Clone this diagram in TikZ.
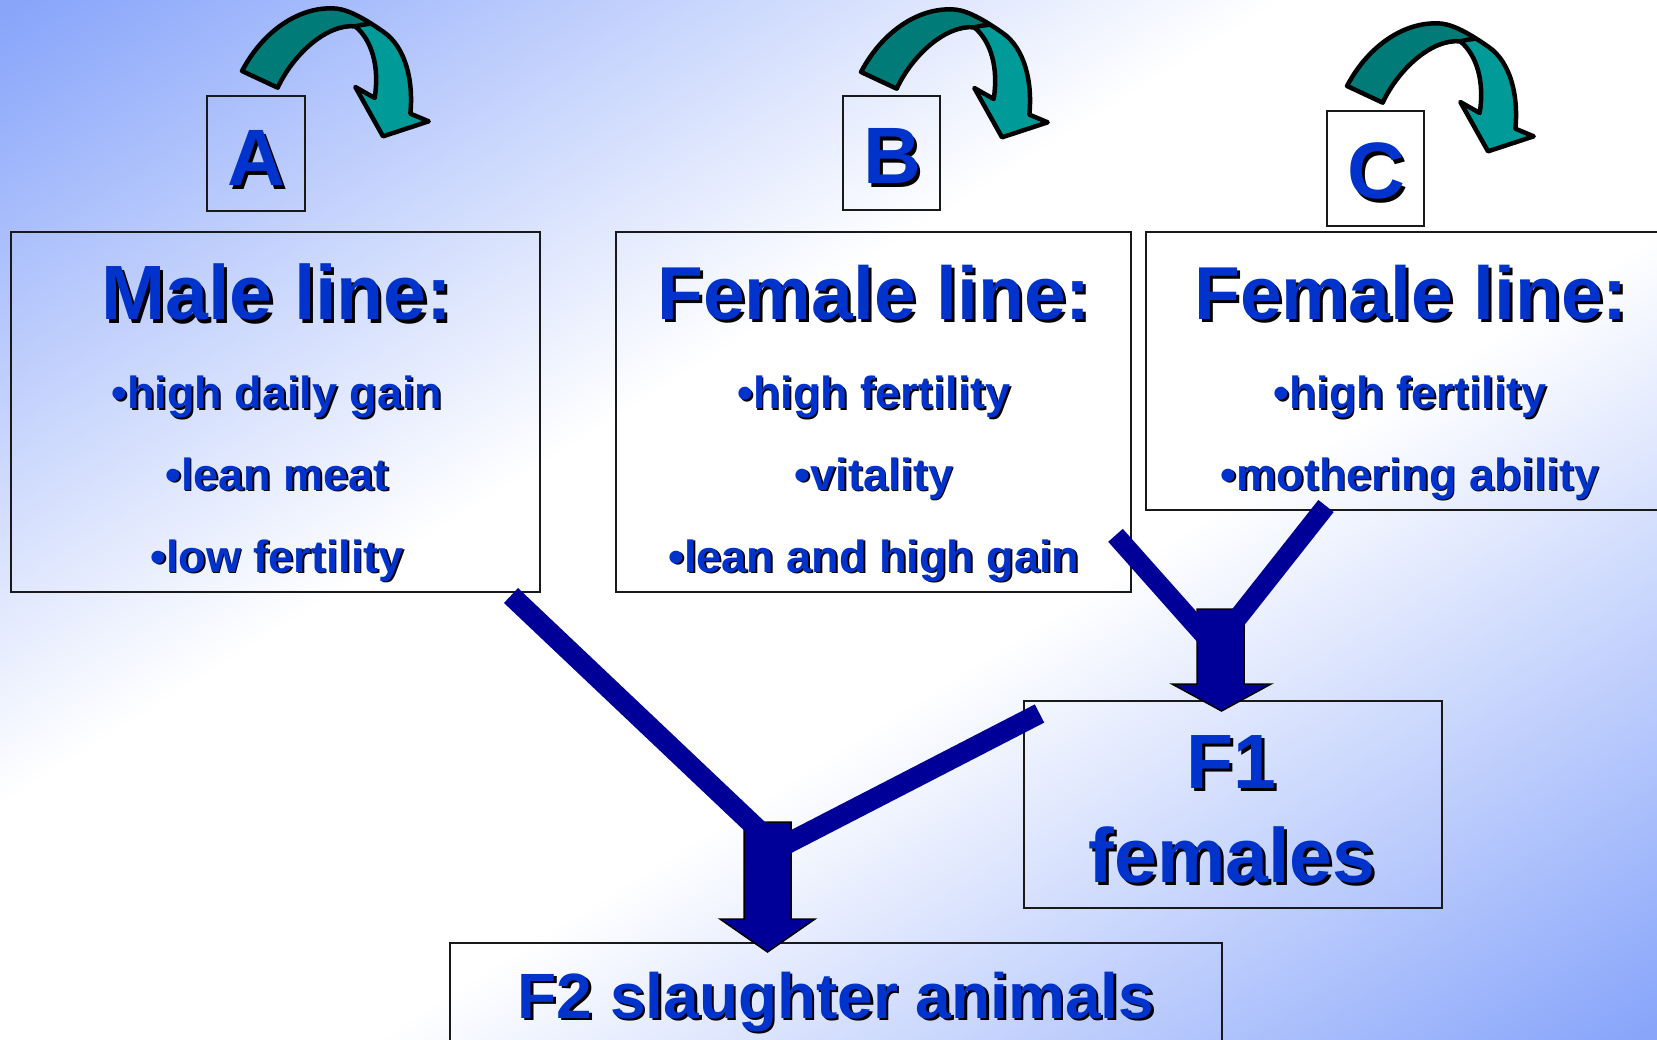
\documentclass[tikz,border=0pt]{standalone}
\usepackage{fontspec}
\setmainfont{Liberation Sans}
\definecolor{bgb}{RGB}{136,165,250}
\definecolor{tblue}{RGB}{0,51,204}
\definecolor{navy}{RGB}{0,0,153}
\definecolor{tealdark}{RGB}{0,123,120}
\definecolor{teallight}{RGB}{0,154,152}
\pgfdeclarehorizontalshading{bgsh}{100bp}{color(0bp)=(bgb); color(15bp)=(bgb); color(42bp)=(white); color(58bp)=(white); color(85bp)=(bgb); color(100bp)=(bgb)}
\newcommand\shd[1]{\makebox[0pt][l]{\hspace{0.04em}\raisebox{-0.04em}{\color{black}#1}}#1}
\tikzset{
  box/.style={draw=black!90, line width=2pt, inner sep=0pt, outer sep=0pt},
  lbl/.style={anchor=base, text=tblue, inner sep=0pt, font=\bfseries\fontsize{#1}{#1}\selectfont},
  bar/.style={draw=navy, line width=#1, line cap=butt, line join=miter},
  blockarr/.style={draw=black, fill=navy, line width=1.5pt, line join=miter},
  curl/.pic={
    \begin{scope}[scale=1/3, shift={(-155,-212)}]
      \fill[teallight] (155,212) .. controls (225,80) and (340,15) .. (440,25)
        .. controls (480,30) and (530,60) .. (580,95)
        .. controls (645,140) and (670,240) .. (660,340)
        -- (715,363) -- (578,408) -- (495,260) -- (553,293)
        .. controls (568,200) and (545,120) .. (495,78)
        .. controls (410,70) and (310,160) .. (262,262) -- cycle;
      \fill[tealdark] (155,212) .. controls (225,80) and (340,15) .. (440,25)
        .. controls (470,30) and (510,50) .. (540,70)
        .. controls (525,72) and (510,74) .. (495,78)
        .. controls (410,70) and (310,160) .. (262,262) -- cycle;
      \draw[line width=4.5pt, line join=round] (155,212) .. controls (225,80) and (340,15) .. (440,25)
        .. controls (480,30) and (530,60) .. (580,95)
        .. controls (645,140) and (670,240) .. (660,340)
        -- (715,363) -- (578,408) -- (495,260) -- (553,293)
        .. controls (568,200) and (545,120) .. (495,78)
        .. controls (410,70) and (310,160) .. (262,262) -- cycle;
      \draw[line width=4.5pt, line cap=round] (540,70) .. controls (525,72) and (510,74) .. (495,78);
    \end{scope}
  }
}
\begin{document}
\begin{tikzpicture}[x=1pt,y=-1pt]
\useasboundingbox (0,0) rectangle (1657,1040);
\fill[bgb] (0,0) rectangle (1657,1040);
\begin{scope}[transform canvas={shift={(828.5,520)}, xscale=1.657, yscale=1.04}]
  \shade[shading=bgsh, shading angle=-45] (-500,-500) rectangle (500,500);
\end{scope}

% small letter boxes
\node[box, minimum width=98pt, minimum height=115pt] (boxA) at (256,153.5) {};
\node[box, minimum width=97pt, minimum height=114pt] (boxB) at (891.5,153) {};
\node[box, minimum width=97pt, minimum height=115pt] (boxC) at (1375.5,168.5) {};
\node[lbl=80] (tA) at (256,186) {\shd{A}};
\node[lbl=80] (tB) at (892,184) {\shd{B}};
\node[lbl=80] (tC) at (1376,199) {\shd{C}};

% curl arrows
\pic (curlA) at (242,71) {curl};
\pic (curlB) at (861,72) {curl};
\pic (curlC) at (1347,86) {curl};

% main boxes
\node[box, minimum width=529pt, minimum height=360pt] (male) at (275.5,412) {};
\node[box, minimum width=515pt, minimum height=360pt] (femB) at (873.5,412) {};
\node[box, minimum width=519pt, minimum height=278pt] (femC) at (1405.5,371) {};
\node[box, minimum width=418pt, minimum height=207pt] (fone) at (1233,804.5) {};
\node[box, minimum width=772pt, minimum height=107pt] (ftwo) at (836,996.5) {};

% texts
\node[lbl=77] (mt) at (277,320) {\shd{Male line:}};
\node[lbl=45] (m1) at (277,409) {\shd{•high daily gain}};
\node[lbl=45] (m2) at (277,490) {\shd{•lean meat}};
\node[lbl=45] (m3) at (277,572) {\shd{•low fertility}};

\node[lbl=75] (bt) at (874,320) {\shd{Female line:}};
\node[lbl=45] (b1) at (874,409) {\shd{•high fertility}};
\node[lbl=45] (b2) at (874,490) {\shd{•vitality}};
\node[lbl=45] (b3) at (874,572) {\shd{•lean and high gain}};

\node[lbl=75] (ct) at (1411,320) {\shd{Female line:}};
\node[lbl=45] (c1) at (1410,409) {\shd{•high fertility}};
\node[lbl=45] (c2) at (1410,490) {\shd{•mothering ability}};

\node[lbl=77] (f1a) at (1231,788) {\shd{F1}};
\node[lbl=77] (f1b) at (1232,882) {\shd{females}};
\node[lbl=64] (f2t) at (836,1018) {\shd{F2 slaughter animals}};

% block arrows
\draw[blockarr] (1197,609) -- (1244,609) -- (1244,684) -- (1271,684) -- (1221.5,711) -- (1172,684) -- (1197,684) -- cycle;
\draw[blockarr] (744,822) -- (791,822) -- (791,919) -- (815,919) -- (767.5,952) -- (720,919) -- (744,919) -- cycle;

% bars
\coordinate (bL1) at (1115.5,535.3);
\coordinate (bR1) at (1326,506);
\coordinate (jL1) at (1221,654);
\coordinate (jR1) at (1221,639);
\coordinate (bL2) at (511,595.5);
\coordinate (bR2) at (1039.5,713.5);
\coordinate (jL2) at (767,838);
\coordinate (jR2) at (767,854);
\draw[bar=19.5pt] (bL1) -- (jL1);
\draw[bar=19.5pt] (bR1) -- (jR1);
\draw[bar=20.5pt] (bL2) -- (jL2);
\draw[bar=20.5pt] (bR2) -- (jR2);
\end{tikzpicture}
\end{document}
